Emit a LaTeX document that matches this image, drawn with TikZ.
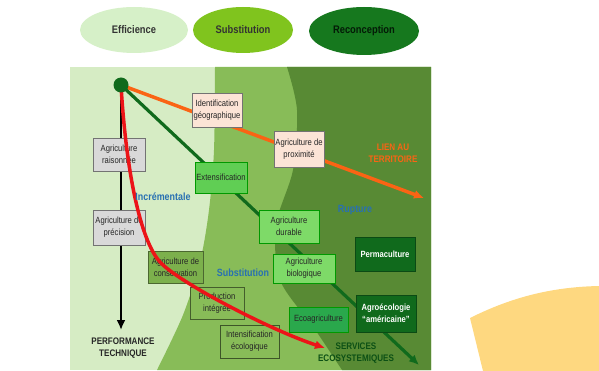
\documentclass[tikz,border=0pt]{standalone}
\usepackage{fontspec}
\setmainfont{Liberation Sans}[FakeStretch=0.85]
\usepackage{tikz}
\usetikzlibrary{arrows.meta,shapes.geometric}

\definecolor{lightzone}{RGB}{214,236,196}
\definecolor{midzone}{RGB}{136,188,88}
\definecolor{darkzone}{RGB}{88,138,52}
\definecolor{effcol}{RGB}{214,240,200}
\definecolor{subcol}{RGB}{128,196,30}
\definecolor{reccol}{RGB}{22,120,30}
\definecolor{deepgreen}{RGB}{16,106,28}
\definecolor{orangeline}{RGB}{250,100,20}
\definecolor{redline}{RGB}{236,20,24}
\definecolor{bluetext}{RGB}{40,112,178}
\definecolor{peach}{RGB}{252,228,214}
\definecolor{greybox}{RGB}{217,217,217}
\definecolor{brightgreen}{RGB}{96,206,84}
\definecolor{palegreen}{RGB}{126,218,104}
\definecolor{ecogreen}{RGB}{42,168,76}
\definecolor{consgreen}{RGB}{124,176,76}
\definecolor{sunyellow}{RGB}{254,216,128}

\tikzset{
  >={Latex[length=10pt,width=9pt]},
  ovalbox/.style={ellipse,minimum width=108pt,minimum height=46pt,inner sep=0pt,
    font=\fontsize{11}{12}\selectfont\bfseries,text=black!80},
  stagebox/.style={draw=black!55,line width=0.7pt,inner sep=1pt,align=center,
    font=\fontsize{9}{12}\selectfont,text=black!85},
  zonelabel/.style={font=\fontsize{10.5}{12}\selectfont\bfseries,text=bluetext},
  endlabel/.style={align=center,font=\fontsize{9.5}{12}\selectfont\bfseries}
}

\begin{document}
\begin{tikzpicture}[x=1pt,y=-1pt]
    \useasboundingbox (0,0) rectangle (599,371);
    % Draw the three approaches
    \node[ovalbox,fill=effcol] (eff) at (134,30) {Efficience};
    \node[ovalbox,fill=subcol,minimum width=100pt] (sub) at (243,30) {Substitution};
    \node[ovalbox,fill=reccol,minimum width=110pt,minimum height=48pt,text=black!75!deepgreen] (rec) at (364,31) {Reconception};
    % Draw the three zones of the panel
    \fill[lightzone] (70,67) rectangle (431,370);
    \fill[midzone] plot[smooth] coordinates {(215,67) (214,150) (209,210) (200,262) (183,315) (157,370)}
      -- (431,370) -- (431,67) -- cycle;
    \fill[darkzone] plot[smooth] coordinates {(287,67) (297,110) (293,170) (276,225) (280,280) (314,328) (342,370)}
      -- (431,370) -- (431,67) -- cycle;
    % Draw the corner shape
    \fill[sunyellow] (483,371) -- (470,318) .. controls (510,298) and (550,287) .. (599,286) -- (599,371) -- cycle;
    % Draw the arrows from the origin
    \coordinate (root) at (121,85);
    \coordinate (perf) at (121,330);
    \coordinate (terr) at (424,198);
    \coordinate (serv) at (419,365);
    \coordinate (bend) at (160,262);
    \coordinate (ecol) at (325,348);
    \draw[line width=2.5pt,->] (root) -- (perf);
    \draw[line width=3.5pt,orangeline,->] (root) -- (terr);
    \draw[line width=3.2pt,deepgreen,->] (root) -- (serv);
    % Draw the practices
    \node[stagebox,fill=peach,minimum width=50pt,minimum height=34pt] (ident) at (217,110) {Identification\\géographique};
    \node[stagebox,fill=peach,minimum width=50pt,minimum height=36pt] (prox) at (299,149) {Agriculture de\\proximité};
    \node[stagebox,fill=greybox,minimum width=52pt,minimum height=33pt] (rais) at (119,154.5) {Agriculture\\raisonnée};
    \node[stagebox,fill=greybox,minimum width=52pt,minimum height=35pt] (prec) at (119,227.5) {Agriculture de\\précision};
    \node[stagebox,fill=brightgreen,draw=black!40!green,minimum width=52pt,minimum height=31pt] (ext) at (221,177.5) {Extensification};
    \node[stagebox,fill=consgreen,draw=black!45!midzone,minimum width=55pt,minimum height=32pt] (cons) at (175.5,267) {Agriculture de\\conservation};
    \node[stagebox,fill=midzone,draw=black!50!midzone,minimum width=54pt,minimum height=32pt] (prodi) at (217,303) {Production\\intégrée};
    \node[stagebox,fill=midzone,draw=black!55!midzone,minimum width=59pt,minimum height=33pt] (intens) at (249.5,341.5) {Intensification\\écologique};
    \node[stagebox,fill=palegreen,draw=black!40!green,minimum width=60pt,minimum height=33pt] (dur) at (289,226.5) {Agriculture\\durable};
    \node[stagebox,fill=palegreen,draw=black!40!green,minimum width=62pt,minimum height=29pt] (bio) at (304,268.5) {Agriculture\\biologique};
    \node[stagebox,fill=ecogreen,draw=black!40!green,minimum width=59pt,minimum height=25pt] (eco) at (318.5,319.5) {Ecoagriculture};
    \node[stagebox,fill=deepgreen,draw=black!30!deepgreen,text=white,minimum width=60pt,minimum height=34pt] (perma) at (385,254) {\bfseries Permaculture};
    \node[stagebox,fill=deepgreen,draw=black!30!deepgreen,text=white,minimum width=60pt,minimum height=37pt] (agro) at (386,313.5) {\bfseries Agroécologie\\\bfseries “américaine”};
    % Draw the red curve over the practices
    \draw[line width=3.5pt,redline,->] (root) .. controls (126,170) and (140,240) .. (bend)
      .. controls (178,282) and (270,330) .. (ecol);
    \fill[deepgreen] (root) circle (7.5pt);
    % Label the zones and the outcomes
    \node[zonelabel] (incr) at (163,197) {Incrémentale};
    \node[zonelabel] (subst) at (243,273) {Substitution};
    \node[zonelabel] (rupt) at (355,210) {Rupture};
    \node[endlabel,text=orangeline] (lien) at (393,153) {LIEN AU\\TERRITOIRE};
    \node[endlabel,text=black!85] (perflab) at (123,348) {PERFORMANCE\\TECHNIQUE};
    \node[endlabel,text=black!25!deepgreen] (servlab) at (356,353) {SERVICES\\ECOSYSTEMIQUES};
\end{tikzpicture}
\end{document}
